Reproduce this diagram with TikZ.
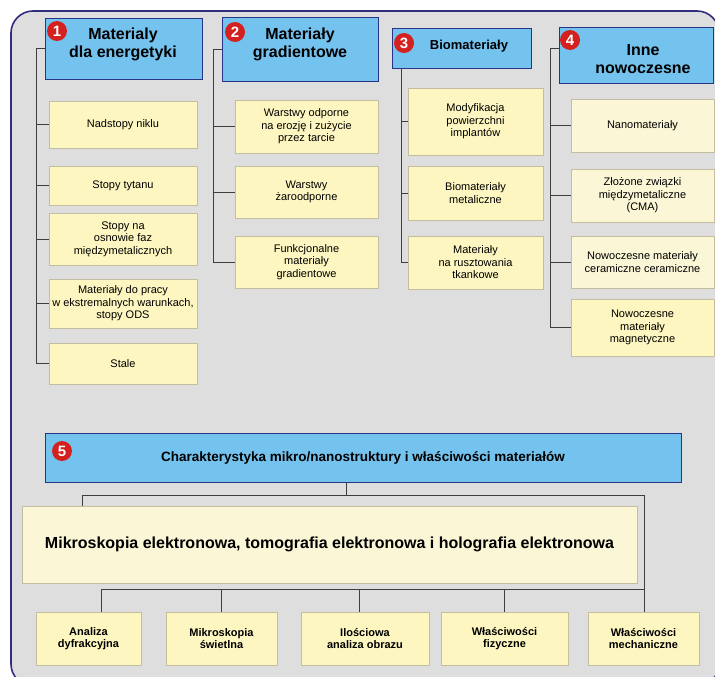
\documentclass[tikz,border=0pt]{standalone}
\usepackage{fontspec}
\setmainfont{Liberation Sans}

\definecolor{hdrblue}{RGB}{116,194,238}
\definecolor{hdrline}{RGB}{42,52,135}
\definecolor{boxyellow}{RGB}{253,246,192}
\definecolor{boxpale}{RGB}{250,246,214}
\definecolor{boxline}{RGB}{196,190,160}
\definecolor{panelgray}{RGB}{222,222,222}
\definecolor{frameblue}{RGB}{48,44,128}
\definecolor{linkgray}{RGB}{62,62,62}
\definecolor{badgered}{RGB}{212,32,30}

\begin{document}
\begin{tikzpicture}[x=1pt,y=-1pt,
    hdr/.style={draw=hdrline,fill=hdrblue,line width=0.9pt,inner sep=0pt},
    hdrtxt/.style={align=center,inner sep=0pt,font=\bfseries\fontsize{16}{18}\selectfont},
    item/.style={draw=boxline,fill=boxyellow,line width=0.6pt,align=center,inner sep=0pt,
      font=\fontsize{11}{12.5}\selectfont},
    bitem/.style={item,font=\bfseries\fontsize{11}{12.5}\selectfont},
    badge/.style={circle,fill=badgered,text=white,inner sep=0pt,minimum size=20pt,
      font=\bfseries\fontsize{15}{15}\selectfont},
    link/.style={draw=linkgray,line width=0.8pt}]
  \useasboundingbox (0,0) rectangle (715,677);
  \draw[frameblue,fill=panelgray,line width=1.6pt,rounded corners=22pt] (11,11) rectangle (719,686);

  % headers
  \node[hdr,minimum width=157pt,minimum height=61pt] (h1) at (123.5,48.5) {};
  \node[hdr,minimum width=156pt,minimum height=64pt] (h2) at (300,49) {};
  \node[hdr,minimum width=139pt,minimum height=40pt] (h3) at (461.5,48) {};
  \node[hdr,minimum width=154pt,minimum height=56pt] (h4) at (636,55) {};
  \node[hdrtxt] (t1) at (123,44) {Materialy\\dla energetyki};
  \node[hdrtxt] (t2) at (300,44) {Materiały\\gradientowe};
  \node[hdrtxt,font=\bfseries\fontsize{13}{15}\selectfont] (t3) at (469,46) {Biomateriały};
  \node[hdrtxt] (t4) at (643,59) {Inne\\nowoczesne};

  % column 1
  \node[item,minimum width=148pt,minimum height=47pt] (e1) at (123,124.5) {Nadstopy niklu};
  \node[item,minimum width=148pt,minimum height=39pt] (e2) at (123,185.5) {Stopy tytanu};
  \node[item,minimum width=148pt,minimum height=52pt] (e3) at (123,239) {Stopy na\\osnowie faz\\międzymetalicznych};
  \node[item,minimum width=148pt,minimum height=49pt] (e4) at (123,303.5) {Materiały do pracy\\w ekstremalnych warunkach,\\stopy ODS};
  \node[item,minimum width=148pt,minimum height=41pt] (e5) at (123,363.5) {Stale};

  % column 2
  \node[item,minimum width=143pt,minimum height=53pt] (g1) at (306.5,126.5) {Warstwy odporne\\na erozję i zużycie\\przez tarcie};
  \node[item,minimum width=143pt,minimum height=52pt] (g2) at (306.5,192) {Warstwy\\żaroodporne};
  \node[item,minimum width=143pt,minimum height=52pt] (g3) at (306.5,262) {Funkcjonalne\\materiały\\gradientowe};

  % column 3
  \node[item,minimum width=135pt,minimum height=67pt] (b1) at (475.5,121.5) {Modyfikacja\\powierzchni\\implantów};
  \node[item,minimum width=135pt,minimum height=54pt] (b2) at (475.5,193) {Biomateriały\\metaliczne};
  \node[item,minimum width=135pt,minimum height=53pt] (b3) at (475.5,262.5) {Materiały\\na rusztowania\\tkankowe};

  % column 4
  \node[item,fill=boxpale,minimum width=143pt,minimum height=53pt] (n1) at (642.5,125.5) {Nanomateriały};
  \node[item,fill=boxpale,minimum width=143pt,minimum height=53pt] (n2) at (642.5,195.5) {Złożone związki\\międzymetaliczne\\(CMA)};
  \node[item,fill=boxpale,minimum width=143pt,minimum height=52pt] (n3) at (642.5,262) {Nowoczesne materiały\\ceramiczne ceramiczne};
  \node[item,minimum width=143pt,minimum height=57pt] (n4) at (642.5,327.5) {Nowoczesne\\materiały\\magnetyczne};

  \coordinate (bus1) at (36,0);
  \coordinate (bus2) at (213,0);
  \coordinate (bus3) at (401,0);
  \coordinate (bus4) at (550,0);
  \foreach \n in {e1,e2,e3,e4,e5}
    \draw[link] (h1.west) -| (bus1 |- \n.west) -- (\n.west);
  \foreach \n in {g1,g2,g3}
    \draw[link] (h2.west) -| (bus2 |- \n.west) -- (\n.west);
  \foreach \n in {b1,b2,b3}
    \draw[link] (h3.south -| bus3) |- (\n.west);
  \foreach \n in {n1,n2,n3,n4}
    \draw[link] ([yshift=7pt]h4.west) -| (bus4 |- \n.west) -- (\n.west);

  % bottom part
  \node[hdr,minimum width=636pt,minimum height=49pt,
    font=\bfseries\fontsize{13.5}{16}\selectfont] (h5) at (363,457.5)
    {Charakterystyka mikro/nanostruktury i właściwości materiałów};
  \node[item,fill=boxpale,minimum width=615pt,minimum height=77pt,
    font=\bfseries\fontsize{16}{18}\selectfont] (m) at (329.5,544.5)
    {Mikroskopia elektronowa, tomografia elektronowa i holografia elektronowa};
  \node[bitem,minimum width=105pt,minimum height=53pt] (a1) at (88.5,638.5) {Analiza\\dyfrakcyjna};
  \node[bitem,minimum width=111pt,minimum height=53pt] (a2) at (221.5,638.5) {Mikroskopia\\świetlna};
  \node[bitem,minimum width=128pt,minimum height=53pt] (a3) at (365,638.5) {Ilościowa\\analiza obrazu};
  \node[bitem,minimum width=127pt,minimum height=53pt] (a4) at (504.5,638.5) {Właściwości\\fizyczne};
  \node[bitem,minimum width=111pt,minimum height=53pt] (a5) at (643.5,638.5) {Właściwości\\mechaniczne};

  \coordinate (j5) at (346,495);
  \coordinate (l5) at (82,495);
  \coordinate (r5) at (644,495);
  \coordinate (k5) at (101,589);
  \draw[link] (h5.south -| j5) -- (j5);
  \draw[link] (l5 |- m.north) -- (l5) -- (r5) -- (r5 |- a5.north);
  \draw[link] (k5 |- a1.north) -- (k5) -- (k5 -| r5);
  \foreach \n in {a2,a4}
    \draw[link] (k5 -| \n.north) -- (\n.north);
  \draw[link] ([xshift=-6pt]a3.north |- k5) -- ([xshift=-6pt]a3.north);

  % numbers
  \node[badge] (c1) at (57,31) {1};
  \node[badge] (c2) at (235,32) {2};
  \node[badge] (c3) at (404,43) {3};
  \node[badge] (c4) at (570,40) {4};
  \node[badge] (c5) at (62,451) {5};
\end{tikzpicture}
\end{document}
